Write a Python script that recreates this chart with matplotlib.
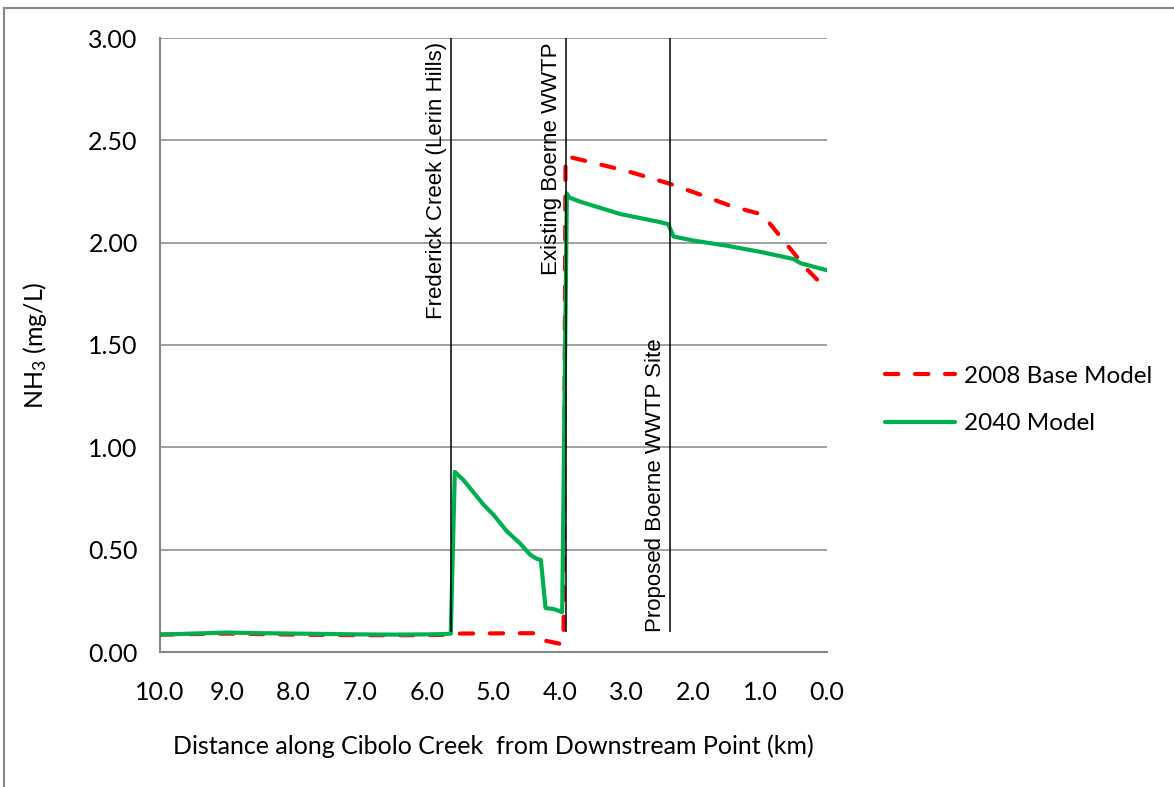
import matplotlib.pyplot as plt
from matplotlib.lines import Line2D

plt.rcParams['font.family'] = ['Lato', 'DejaVu Sans']
plt.rcParams['mathtext.default'] = 'regular'

# distance (km) and NH3 (mg/L)
base_x = [10.0, 9.0, 8.0, 7.0, 6.0, 5.65, 5.60, 4.35, 4.28, 4.22, 4.00, 3.95,
          3.92, 3.88, 3.50, 3.00, 2.38, 1.90, 1.45, 1.00, 0.90, 0.75, 0.60,
          0.45, 0.30, 0.15, 0.05, 0.0]
base_y = [0.085, 0.09, 0.085, 0.082, 0.082, 0.085, 0.09, 0.092, 0.085, 0.055,
          0.04, 0.05, 2.42, 2.42, 2.39, 2.35, 2.29, 2.235, 2.18, 2.14, 2.11,
          2.05, 1.99, 1.93, 1.87, 1.82, 1.79, 1.78]

m2040_x = [10.0, 9.5, 9.0, 8.5, 8.0, 7.5, 7.0, 6.5, 6.0, 5.7, 5.64, 5.58, 5.45,
           5.30, 5.15, 5.00, 4.80, 4.60, 4.45, 4.35, 4.29, 4.22, 4.10, 3.97,
           3.90, 3.86, 3.70, 3.40, 3.10, 2.80, 2.50, 2.38, 2.30, 2.00, 1.50,
           1.00, 0.50, 0.40, 0.0]
m2040_y = [0.085, 0.090, 0.095, 0.092, 0.090, 0.088, 0.086, 0.085, 0.086,
           0.088, 0.09, 0.88, 0.84, 0.78, 0.72, 0.67, 0.59, 0.53, 0.475, 0.455,
           0.45, 0.215, 0.21, 0.195, 2.24, 2.22, 2.20, 2.17, 2.14, 2.12, 2.10,
           2.09, 2.03, 2.01, 1.985, 1.955, 1.92, 1.90, 1.865]

sites = ['Frederick Creek (Lerin Hills)', 'Existing Boerne WWTP',
         'Proposed Boerne WWTP Site']
site_x = [5.64, 3.91, 2.35]

fig = plt.figure(figsize=(11.74, 7.87), dpi=100)
ax = fig.add_axes([160/1174, 1 - 652/787, (827-160)/1174, (652-38)/787])

grey = '#868686'

# outer chart border (partly cut off)
fig.add_artist(Line2D([4/1174, 4/1174], [0, 1 - 8/787], transform=fig.transFigure, color=grey, lw=1.5))
fig.add_artist(Line2D([4/1174, 1], [1 - 8/787, 1 - 8/787], transform=fig.transFigure, color=grey, lw=1.5))

ax.plot(base_x, base_y, color='#FF0000', lw=3, dashes=(3.2, 4.0),
        dash_capstyle='round', solid_capstyle='round', label='2008 Base Model', zorder=3)
ax.plot(m2040_x, m2040_y, color='#00B050', lw=3, solid_capstyle='round',
        solid_joinstyle='round', label='2040 Model', zorder=4)

ax.vlines(site_x, 0.1, 3.0, color='black', lw=1.1, zorder=5)
for i, (name, sx) in enumerate(zip(sites, site_x)):
    if i < 2:
        ax.annotate(name, xy=(sx, 3.0), xytext=(-3, -3), textcoords='offset points',
                    rotation=90, ha='right', va='top', fontsize=16,
                    family='Liberation Sans')
    else:
        ax.annotate(name, xy=(sx, 0.1), xytext=(-3, 0), textcoords='offset points',
                    rotation=90, ha='right', va='bottom', fontsize=16,
                    family='Liberation Sans')

ax.set_xlim(10, 0)
ax.set_ylim(0, 3.0)
ax.set_xticks([10, 9, 8, 7, 6, 5, 4, 3, 2, 1, 0])
ax.set_xticklabels(['10.0', '9.0', '8.0', '7.0', '6.0', '5.0', '4.0', '3.0', '2.0', '1.0', '0.0'])
ax.set_yticks([0, 0.5, 1.0, 1.5, 2.0, 2.5, 3.0])
ax.set_yticklabels(['0.00', '0.50', '1.00', '1.50', '2.00', '2.50', '3.00'])
ax.tick_params(axis='x', length=0, pad=21, labelsize=18)
ax.tick_params(axis='y', length=0, pad=16, labelsize=18)
ax.grid(axis='y', color=grey, lw=1.1)
ax.set_axisbelow(True)
for s in ['top', 'right']:
    ax.spines[s].set_visible(False)
for s in ['left', 'bottom']:
    ax.spines[s].set_color(grey)
    ax.spines[s].set_linewidth(1.5)

ax.set_xlabel('Distance along Cibolo Creek  from Downstream Point (km)', fontsize=18, labelpad=22)
ax.set_ylabel('NH$_3$ (mg/L)', fontsize=18, labelpad=28)

fig.legend(loc='center left', bbox_to_anchor=(885/1174, 1 - 400/787), frameon=False,
           fontsize=17.5, handlelength=2.9, handletextpad=0.35, labelspacing=1.1,
           borderpad=0, borderaxespad=0)

fig.savefig('out.png', dpi=100)
